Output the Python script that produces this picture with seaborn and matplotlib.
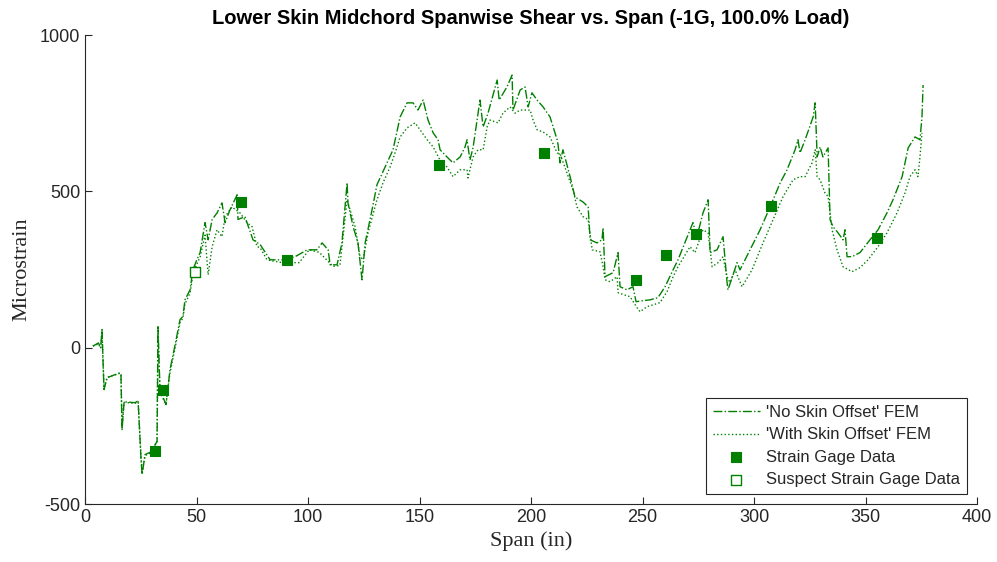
import numpy as np
import pandas as pd
import seaborn as sns
import matplotlib.pyplot as plt

# 'No Skin Offset' FEM (span in, microstrain)
span_no = [3.5, 6.0, 7.0, 7.6, 8.5, 9.9, 15.7, 16.1, 16.6, 17.5, 22.4, 23.8, 25.1, 25.6, 26.9,
           30.0, 31.4, 32.3, 32.7, 33.6, 35.4, 36.3, 38.1, 40.4, 42.6, 43.9, 44.8, 47.1, 48.4,
           49.8, 51.6, 53.8, 55.2, 57.0, 59.2, 61.4, 62.8, 65.0, 68.2, 68.6, 71.7, 75.3, 78.5,
           83.0, 88.8, 94.2, 99.6, 104.0, 106.3, 109.0, 109.9, 113.0, 115.2, 117.5, 117.9,
           120.2, 122.4, 124.2, 125.6, 128.7, 130.9, 135.4, 138.1, 141.3, 144.4, 147.1, 149.3,
           151.6, 153.8, 156.1, 158.3, 159.2, 162.3, 165.0, 168.2, 170.4, 171.3, 172.6, 174.0,
           177.1, 178.5, 180.7, 184.8, 185.7, 189.2, 191.5, 191.9, 195.1, 197.3, 198.7, 200.4,
           202.7, 205.4, 208.5, 211.7, 212.1, 213.0, 214.3, 217.5, 219.7, 223.3, 225.6, 226.5,
           229.6, 231.8, 232.3, 233.2, 236.8, 239.0, 239.9, 243.0, 245.7, 247.1, 249.8, 253.4,
           256.9, 260.1, 263.7, 265.9, 272.6, 274.4, 277.1, 279.4, 280.3, 283.4, 286.1, 287.9,
           288.3, 292.4, 293.7, 298.2, 302.7, 307.2, 311.7, 314.8, 318.4, 319.7, 320.6, 322.9,
           326.5, 327.4, 328.3, 329.6, 330.9, 333.2, 334.1, 335.4, 337.7, 339.9, 340.8, 341.7,
           343.9, 347.5, 352.0, 355.6, 359.6, 362.3, 366.4, 369.1, 372.2, 374.4, 375.3, 375.8]
strain_no = [5, 15, 0, 58, -134, -96, -80, -85, -262, -173, -176, -170, -358, -406, -342,
             -332, -310, -300, 67, -134, -166, -182, -70, 10, 90, 100, 153, 185, 250,
             275, 304, 400, 345, 410, 431, 463, 400, 441, 489, 410, 419, 345, 330,
             281, 281, 291, 313, 313, 335, 313, 265, 265, 335, 527, 463,
             387, 335, 217, 335, 441, 521, 591, 633, 738, 783, 783, 760,
             792, 728, 687, 665, 633, 610, 591, 610, 642, 665, 600, 640,
             792, 706, 750, 856, 792, 834, 872, 760, 824, 834, 770, 815,
             792, 770, 738, 665, 650, 591, 633, 547, 482, 466, 450, 345,
             335, 345, 383, 227, 240, 304, 195, 185, 195, 147, 150, 153,
             160, 195, 249, 281, 400, 355, 431, 473, 304, 313, 355, 208,
             185, 272, 249, 313, 377, 450, 527, 569, 633, 665, 623, 665,
             738, 783, 610, 642, 610, 639, 409, 387, 367, 345, 377, 291,
             291, 304, 345, 377, 431, 473, 547, 639, 674, 665, 738, 840]

# 'With Skin Offset' FEM
span_off = [3.5, 6.0, 7.0, 7.6, 8.5, 9.9, 15.7, 16.1, 16.6, 17.5, 22.4, 23.8, 25.1, 25.6, 26.9,
            30.0, 31.4, 32.3, 32.7, 33.6, 35.4, 36.3, 38.1, 40.4, 42.6, 43.9, 44.8, 47.1, 48.4,
            49.8, 51.6, 53.8, 55.2, 57.0, 59.2, 61.4, 62.8, 65.9, 69.5, 72.6, 74.9, 77.1, 78.5,
            81.6, 88.3, 96.0, 100.5, 105.0, 111.2, 114.3, 117.5, 121.1, 123.3, 124.7, 126.9,
            130.9, 133.6, 136.8, 139.0, 141.3, 144.4, 148.0, 150.2, 153.4, 156.1, 159.2, 162.3,
            165.0, 168.2, 171.3, 171.7, 174.0, 176.2, 178.5, 180.3, 181.6, 185.2, 187.4, 190.6,
            192.8, 195.1, 199.6, 200.9, 202.7, 205.4, 208.5, 211.7, 213.0, 216.1, 218.8, 220.6,
            223.3, 225.6, 227.4, 230.9, 232.3, 233.2, 235.4, 238.6, 239.0, 241.3, 244.4, 247.5,
            248.9, 252.0, 254.7, 257.8, 261.0, 263.7, 265.9, 271.3, 273.5, 277.1, 279.4, 281.2,
            283.9, 286.1, 287.9, 289.2, 291.5, 294.6, 299.1, 304.0, 308.5, 313.0, 317.5, 320.6,
            322.9, 326.0, 327.4, 328.3, 329.6, 331.8, 333.2, 335.0, 337.2, 339.9, 343.9, 347.5,
            351.1, 355.6, 359.6, 364.1, 367.7, 369.9, 372.2, 373.5, 374.4, 375.3]
strain_off = [5, 12, -2, 50, -130, -95, -82, -88, -255, -175, -178, -172, -350, -398, -345,
              -335, -312, -305, 55, -140, -170, -180, -80, 0, 80, 95, 140, 175, 235,
              262, 290, 360, 233, 323, 377, 355, 419, 450, 431, 400, 387, 323, 320,
              281, 272, 272, 313, 305, 260, 263, 473, 387, 291, 281, 367,
              473, 527, 578, 623, 674, 703, 719, 697, 665, 642, 600, 578,
              547, 569, 569, 543, 610, 633, 633, 706, 728, 719, 750, 770,
              750, 760, 760, 728, 697, 690, 674, 623, 620, 559, 505, 450,
              419, 410, 313, 307, 259, 217, 211, 227, 176, 170, 163, 128,
              115, 131, 137, 144, 179, 227, 259, 323, 304, 377, 367, 259,
              272, 291, 227, 208, 249, 195, 249, 335, 409, 483, 537, 547,
              547, 591, 633, 547, 537, 495, 483, 377, 313, 259, 243, 256,
              281, 323, 367, 431, 495, 547, 569, 547, 610, 687]

# strain gage measurements
gage_span = [31.4, 35.0, 70.0, 90.6, 158.7, 206.0, 247.0, 260.5, 274.0, 307.6, 355.0]
gage_strain = [-329, -134, 466, 281, 585, 623, 217, 297, 364, 454, 351]
suspect_span = [49.3]
suspect_strain = [243]

sns.set_style("ticks")
plt.rcParams['font.family'] = ['Liberation Sans', 'DejaVu Sans']
plt.rcParams['axes.unicode_minus'] = False

green = '#008000'
fig = plt.figure(figsize=(9.97, 5.62), dpi=100)
ax = fig.add_axes([0.0853, 0.1032, 0.8947, 0.8345])

df_no = pd.DataFrame({'span': span_no, 'strain': strain_no})
df_off = pd.DataFrame({'span': span_off, 'strain': strain_off})
df_gage = pd.DataFrame({'span': gage_span, 'strain': gage_strain})
df_sus = pd.DataFrame({'span': suspect_span, 'strain': suspect_strain})

sns.lineplot(data=df_no, x='span', y='strain', sort=False, estimator=None, ax=ax,
             color=green, linestyle='-.', linewidth=1.0, label="'No Skin Offset' FEM")
sns.lineplot(data=df_off, x='span', y='strain', sort=False, estimator=None, ax=ax,
             color=green, linestyle=':', linewidth=1.0, label="'With Skin Offset' FEM")
sns.scatterplot(data=df_gage, x='span', y='strain', ax=ax, marker='s', s=42,
                color=green, edgecolor=green, linewidth=0.8, label='Strain Gage Data', zorder=3)
sns.scatterplot(data=df_sus, x='span', y='strain', ax=ax, marker='s', s=42,
                facecolor='white', edgecolor=green, linewidth=1.0,
                label='Suspect Strain Gage Data', zorder=3)

ax.set_xlim(0, 400)
ax.set_ylim(-500, 1000)
ax.set_xticks(range(0, 401, 50))
ax.set_yticks([-500, 0, 500, 1000])
ax.tick_params(direction='in', length=5, labelsize=13, colors='#262626')
sns.despine(ax=ax)
for sp in ['left', 'bottom']:
    ax.spines[sp].set_color('#262626')
    ax.spines[sp].set_linewidth(0.8)

ax.set_xlabel('Span (in)', family='Liberation Serif', fontsize=16, color='#262626', labelpad=4)
ax.set_ylabel('Microstrain', family='Liberation Serif', fontsize=16, color='#262626', labelpad=6)
ax.set_title('Lower Skin Midchord Spanwise Shear vs. Span (-1G, 100.0% Load)',
             fontsize=14.5, fontweight='bold', color='black', pad=8)

leg = ax.legend(loc='lower right', fontsize=12, frameon=True, fancybox=False,
                edgecolor='#262626', framealpha=1, borderaxespad=0.6,
                handlelength=2.8, handletextpad=0.4, labelspacing=0.45)
leg.get_frame().set_linewidth(0.8)

fig.savefig('out.png', dpi=100)
